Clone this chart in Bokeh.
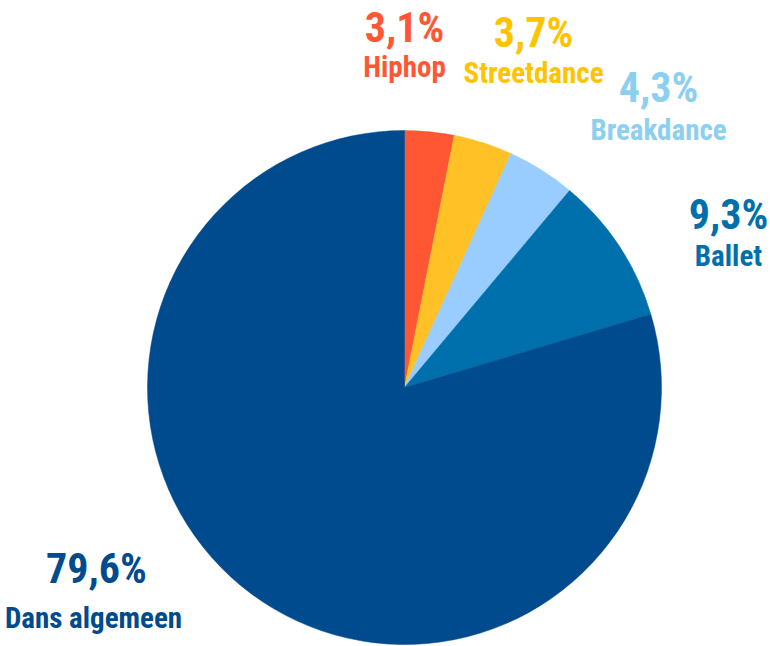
import math
from bokeh.plotting import figure
from bokeh.models import Range1d, ColumnDataSource
from bokeh.core.properties import value
from bokeh.embed import file_html
from bokeh.resources import INLINE

categories = ["Hiphop", "Streetdance", "Breakdance", "Ballet", "Dans algemeen"]
percentages = [3.1, 3.7, 4.3, 9.3, 79.6]
slice_colors = ["#FF5733", "#FFC125", "#99CCFF", "#0070AD", "#004B8D"]
text_colors = ["#FF5733", "#FFC300", "#8DCFF0", "#0070AD", "#004B8D"]

W, H = 770, 646
p = figure(width=W, height=H, output_backend="svg", toolbar_location=None,
           x_range=Range1d(0, W), y_range=Range1d(0, H),
           min_border=0)
p.axis.visible = False
p.grid.visible = False
p.outline_line_color = None
p.background_fill_color = "white"
p.border_fill_color = "white"

# screen pixel y -> data y
def sy(py):
    return H - py

cx, cy, r = 404, sy(387), 257
total = sum(percentages)
starts, ends = [], []
acc = 0.0
for v in percentages:
    starts.append(math.pi / 2 - 2 * math.pi * acc / total)
    acc += v
    ends.append(math.pi / 2 - 2 * math.pi * acc / total)

src = ColumnDataSource(dict(start=starts, end=ends, color=slice_colors))
p.wedge(x=cx, y=cy, radius=r, start_angle="start", end_angle="end",
        direction="clock", fill_color="color", line_color="color",
        line_width=0.5, source=src)

# label anchors (centre x, baseline of percentage, baseline of name; screen px)
label_pos = [(404, 27, 66), (533, 32, 72), (658, 87, 129), (728, 214, 255), (96, 568, 617)]
font = "Roboto Condensed"
pct_texts = [f"{v:.1f}".replace(".", ",") + "%" for v in percentages]
px = [a for a, b, c in label_pos]
pct_y = [sy(b) for a, b, c in label_pos]
name_y = [sy(c) for a, b, c in label_pos]

p.text(x=px, y=pct_y, text=pct_texts, text_color=text_colors,
       text_font=value(font), text_font_style="bold", text_font_size="42px",
       text_align="center", text_baseline="alphabetic")
p.text(x=[x - 3 if i == 4 else x for i, x in enumerate(px)], y=name_y, text=categories,
       text_color=text_colors,
       text_font=value(font), text_font_style="bold", text_font_size="29px",
       text_align="center", text_baseline="alphabetic")

open("out.html", "w").write(file_html(p, INLINE))
